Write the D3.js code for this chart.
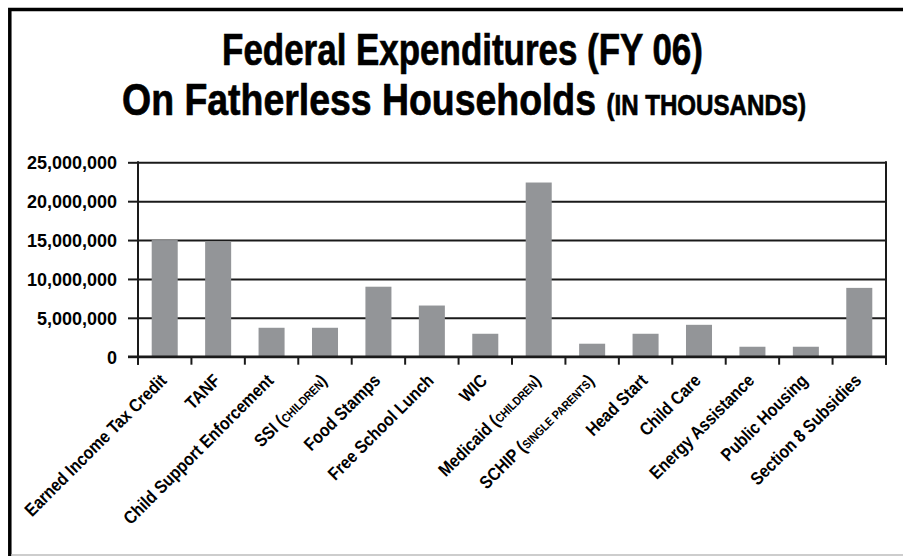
<!DOCTYPE html>
<html>
<head>
<meta charset="utf-8">
<script src="https://cdn.jsdelivr.net/npm/d3@7"></script>
<style>
  html, body { margin: 0; padding: 0; background: #fff; }
  svg { display: block; }
  text { font-family: "Liberation Sans", Arial, Helvetica, sans-serif; font-weight: bold; fill: #000; }
</style>
</head>
<body>
<svg id="chart" width="903" height="556"></svg>
<script>
// ---- data ----
const categories = [
  "Earned Income Tax Credit", "TANF", "Child Support Enforcement", "SSI (CHILDREN)",
  "Food Stamps", "Free School Lunch", "WIC", "Medicaid (CHILDREN)",
  "SCHIP (SINGLE PARENTS)", "Head Start", "Child Care", "Energy Assistance",
  "Public Housing", "Section 8 Subsidies"
];
const values = [
  15000000, 14800000, 3720000, 3720000,
  9000000, 6580000, 2950000, 22400000,
  1670000, 2950000, 4100000, 1280000,
  1280000, 8850000
];
const yTicks = [0, 5000000, 10000000, 15000000, 20000000, 25000000];
const titleLine1 = "Federal Expenditures (FY 06)";
const titleLine2Main = "On Fatherless Households";
const titleLine2Small = "(IN THOUSANDS)";

// ---- layout ----
const svg = d3.select("#chart");
const plotL = 138, plotR = 886, plotT = 162.3, plotB = 356.7;

const x = d3.scaleBand().domain(categories).range([plotL, plotR])
  .paddingInner(0.513).paddingOuter(0.2565);
const y = d3.scaleLinear().domain([0, 25000000]).range([plotB, plotT]);

// frame
svg.append("path")
  .attr("d", "M9.8,556 L9.8,9.5 L903,9.5")
  .attr("fill", "none").attr("stroke", "#000").attr("stroke-width", 3.5);
svg.append("line")
  .attr("x1", 11).attr("x2", 903).attr("y1", 555).attr("y2", 555)
  .attr("stroke", "#bdbdbd").attr("stroke-width", 1.5);

// title
function fitText(sel, cx, baseline, targetW) {
  const w = sel.node().getComputedTextLength();
  const sx = targetW / w;
  sel.attr("text-anchor", "middle")
     .attr("transform", `translate(${cx},${baseline}) scale(${sx},1)`);
}
const t1 = svg.append("text").attr("font-size", 44)
  .attr("stroke", "#000").attr("stroke-width", 0.7).text(titleLine1);
fitText(t1, 462.5, 65, 481);
const t2 = svg.append("text").attr("font-size", 45)
  .attr("stroke", "#000").attr("stroke-width", 0.7);
t2.append("tspan").text(titleLine2Main + " ");
t2.append("tspan").attr("font-size", 29).text(titleLine2Small);
fitText(t2, 464, 115, 684);

// gridlines
const grid = svg.append("g").attr("transform", `translate(${plotL},0)`)
  .call(d3.axisLeft(y).tickValues(yTicks).tickSize(-(plotR - plotL)).tickFormat(""));
grid.select(".domain").remove();
grid.selectAll(".tick line").attr("stroke", "#1a1a1a").attr("stroke-width", 2);

// bars
svg.append("g").selectAll("rect").data(categories).join("rect")
  .attr("x", d => x(d))
  .attr("width", x.bandwidth())
  .attr("y", (d, i) => y(values[i]))
  .attr("height", (d, i) => y(0) - y(values[i]))
  .attr("fill", "#939598");

// left axis with labels
const yAxis = svg.append("g").attr("transform", `translate(${plotL},0)`)
  .call(d3.axisLeft(y).tickValues(yTicks).tickSize(10).tickPadding(11).tickFormat(d3.format(",")));
yAxis.select(".domain").remove();
yAxis.selectAll(".tick line").attr("stroke", "#1a1a1a").attr("stroke-width", 2);
yAxis.selectAll(".tick text")
  .attr("font-size", 18).attr("font-family", "Liberation Sans, Arial, sans-serif")
  .attr("font-weight", "bold").attr("fill", "#000").attr("dy", "0.36em");

// vertical axis lines
svg.append("line").attr("x1", plotL).attr("x2", plotL).attr("y1", plotT - 1).attr("y2", plotB + 8)
  .attr("stroke", "#1a1a1a").attr("stroke-width", 2);
svg.append("line").attr("x1", plotR).attr("x2", plotR).attr("y1", plotT - 1).attr("y2", plotB + 8)
  .attr("stroke", "#1a1a1a").attr("stroke-width", 2);
// zero line
svg.append("line").attr("x1", plotL - 10).attr("x2", plotR + 1).attr("y1", y(0)).attr("y2", y(0))
  .attr("stroke", "#1a1a1a").attr("stroke-width", 2.5);

// x ticks at band boundaries
const bounds = d3.range(categories.length + 1).map(i => plotL + i * x.step());
svg.append("g").selectAll("line").data(bounds).join("line")
  .attr("x1", d => d).attr("x2", d => d)
  .attr("y1", y(0)).attr("y2", y(0) + 8)
  .attr("stroke", "#1a1a1a").attr("stroke-width", 2);

// x labels
const labels = svg.append("g").selectAll("text").data(categories).join("text")
  .attr("font-size", 18)
  .attr("text-anchor", "end")
  .attr("transform", d => `translate(${x(d) + x.bandwidth() / 2 + 3},${y(0) + 25}) rotate(-45) scale(0.87,1)`);
labels.each(function(d) {
  const t = d3.select(this);
  const m = d.match(/^(.*) \((.*)\)$/);
  if (m) {
    t.append("tspan").text(m[1] + " (");
    t.append("tspan").attr("font-size", 12).text(m[2]);
    t.append("tspan").text(")");
  } else {
    t.text(d);
  }
});
</script>
</body>
</html>
